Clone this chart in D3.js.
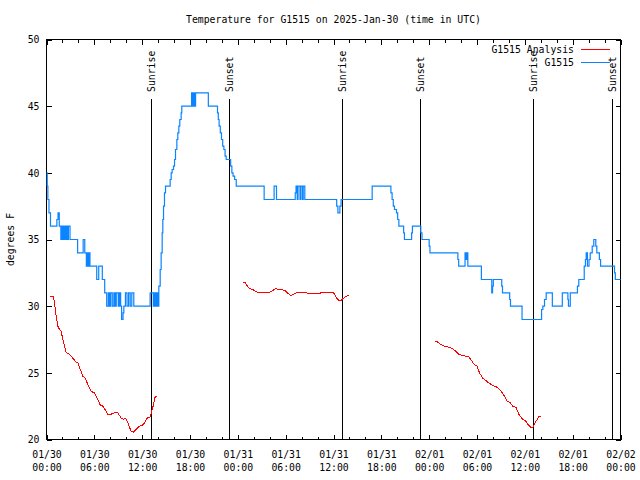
<!DOCTYPE html>
<html>
<head>
<meta charset="utf-8">
<script src="https://cdn.jsdelivr.net/npm/d3@7"></script>
<style>
  html, body { margin: 0; padding: 0; background: #fff; }
  svg { display: block; }
  text { font-family: "DejaVu Sans Mono", "Liberation Mono", monospace; font-size: 9.8px; fill: #000; }
</style>
</head>
<body>
<div id="chart"></div>
<script>
// ---- Data (hours since 2025-01-30 00:00 UTC) ----
const titleText = "Temperature for G1515 on 2025-Jan-30 (time in UTC)";
const yLabel = "degrees F";
const seriesNames = ["G1515 Analysis", "G1515"];

// Observed G1515 temperature: time at which each reading begins, and its value
const obsHours = [0.00,0.09,0.17,0.31,0.50,1.30,1.45,1.60,1.80,1.95,2.05,2.20,2.35,2.50,2.60,2.75,2.95,3.90,4.60,4.80,5.00,5.10,5.20,5.30,5.45,6.30,6.55,7.00,7.30,7.55,7.75,7.90,8.05,8.25,8.45,8.60,8.75,9.00,9.15,9.30,9.42,9.60,9.70,9.90,10.10,10.30,10.50,10.70,10.95,13.00,13.40,13.50,13.60,13.70,13.80,13.90,14.00,14.09,14.26,14.38,14.51,14.59,14.68,14.80,14.93,15.51,15.64,15.76,15.93,16.06,16.18,16.35,16.47,16.60,16.72,16.89,16.97,18.20,18.30,18.45,18.55,18.70,20.30,21.45,21.55,21.65,21.80,21.95,22.10,22.25,22.40,22.54,23.10,23.25,23.40,23.60,23.80,27.30,28.55,28.85,31.20,31.30,31.45,31.55,31.80,31.90,32.10,32.20,32.40,36.40,36.55,36.80,36.95,40.85,43.20,43.35,43.50,43.65,43.90,44.05,44.20,44.80,44.90,45.80,45.90,46.95,47.10,48.00,48.10,51.60,51.70,52.50,52.60,52.70,52.85,54.55,55.85,55.95,56.05,57.10,57.20,58.10,58.20,59.65,62.10,62.26,62.47,62.68,63.45,64.70,65.40,65.47,65.70,66.60,66.77,67.45,67.60,67.70,67.85,68.05,68.20,68.45,68.65,68.90,69.03,69.35,69.50,71.25,71.35,72.00];
const obsTemps = [40,39,38,37,36,36.5,37,36,35,36,35,36,35,36,35,36,35,34,35,34,33,34,33,34,33,32,33,32,31,30,31,30,31,30,31,30,31,30,31,30,29,29.5,30,31,30,31,30,31,30,31,30,31,30,31,30,31,30,31.5,32.75,34,35.5,36.5,37.5,38.5,39,39.5,40,40.25,40.5,41,41.75,42.5,43,43.5,44,44.5,45,46,45,46,45,46,45,44.5,44,43.5,43,42.5,42,41.75,41.25,41,40.5,40,39.75,39.5,39,38,39,38,38.5,39,38,39,38,39,38,39,38,37.5,37,37.5,38,39,38.5,38,37.5,37.25,37,36.5,36,35.5,35,35.5,36,35.5,35,34.5,34,33.5,33,34,33.5,34,33,32,31,31.5,32,31.5,31,30.5,30,29,29.75,30,30.5,31,30,31,30.5,30,31,31.5,32,33,33.5,34,33,33.5,34,34.5,35,34.5,34,33.5,33,32.5,32,32];

// Analysis series (null = gap)
const anaHours = [0.46,0.88,1.00,1.21,1.42,1.63,1.84,2.05,2.26,2.47,2.89,3.30,3.72,3.93,4.14,4.56,4.89,5.18,5.60,6.02,6.44,6.73,7.06,7.49,7.70,8.11,8.53,8.95,9.37,9.66,9.91,10.20,10.62,10.91,11.25,11.67,12.00,12.29,12.63,13.00,13.25,13.42,13.63,13.84,
  18.0,
  24.63,24.92,25.25,25.55,25.88,26.22,26.50,27.13,27.89,28.18,28.72,29.23,29.85,30.27,30.69,31.11,31.52,32.15,32.57,33.40,34.03,34.46,35.29,35.91,36.13,36.42,36.67,36.97,37.26,37.59,37.92,
  43.0,
  48.67,49.09,49.51,49.92,50.55,50.97,51.39,51.72,52.22,52.97,53.27,53.69,54.02,54.31,54.73,55.15,55.57,56.20,56.61,57.04,57.45,57.74,58.16,58.49,58.91,59.24,59.66,60.08,60.50,60.80,61.00,61.33,61.76,62.06];
const anaTemps = [30.75,30.75,30.25,29.25,28.5,28.25,28.1,27.5,27,26.5,26.4,26.1,25.8,25.75,25.4,24.75,24.6,24.1,23.6,23.5,23.0,22.6,22.5,22.1,21.9,21.9,22.0,22.0,21.6,21.5,21.6,21.25,20.6,20.55,20.75,21.0,21.05,21.25,21.6,21.7,22.25,22.6,23.2,23.2,
  null,
  31.75,31.75,31.45,31.3,31.25,31.1,31.05,31.0,31.0,31.1,31.3,31.25,31.2,30.95,30.8,30.95,31.05,31.05,31.0,30.93,30.93,31.0,31.05,31.05,30.9,30.6,30.45,30.45,30.6,30.75,30.8,
  null,
  27.4,27.3,27.1,27.0,26.9,26.8,26.6,26.4,26.3,26.2,25.95,25.6,25.5,25.0,24.6,24.4,24.2,24.0,23.9,23.6,23.25,22.9,22.75,22.5,22.4,21.9,21.55,21.4,21.05,20.9,20.9,21.3,21.7,21.7];

// Sunrise / sunset events
const sunNames = ["Sunrise","Sunset","Sunrise","Sunset","Sunrise","Sunset"];
const sunHours = [13.13, 22.99, 37.17, 46.95, 61.13, 71.04];

// Axis ticks
const xMajorHours = [0,6,12,18,24,30,36,42,48,54,60,66,72];
const xTickDates = ["01/30","01/30","01/30","01/30","01/31","01/31","01/31","01/31","02/01","02/01","02/01","02/01","02/02"];
const xTickTimes = ["00:00","06:00","12:00","18:00","00:00","06:00","12:00","18:00","00:00","06:00","12:00","18:00","00:00"];
const xMinorHours = d3.range(0, 73, 2).filter(h => h % 6 !== 0);
const yTicks = [20,25,30,35,40,45,50];

// ---- Layout ----
const W = 640, H = 480;
const L = 46.5, R = 620.5, T = 39.5, B = 439.5;
const blue = "#0a84ff", red = "#ff0000";

const svg = d3.select("#chart").append("svg").attr("width", W).attr("height", H);

const x = d3.scaleLinear().domain([0, 72]).range([L, R]);
const y = d3.scaleLinear().domain([20, 50]).range([B, T]);

// Title
svg.append("text").attr("x", (L + R) / 2).attr("y", 22.5)
  .attr("text-anchor", "middle").text(titleText);

// Y label
svg.append("text").attr("transform", `translate(14,${(T + B) / 2}) rotate(-90)`)
  .attr("text-anchor", "middle").text(yLabel);

function styleAxis(g) {
  g.select(".domain").remove();
  g.selectAll(".tick line").attr("stroke", "#000").attr("shape-rendering", "crispEdges");
}

// Bottom axis (major)
const gx = svg.append("g").attr("transform", `translate(0,${B})`)
  .call(d3.axisBottom(x).tickValues(xMajorHours).tickSizeInner(-5).tickSizeOuter(0).tickPadding(0).tickFormat(() => ""));
styleAxis(gx);
gx.selectAll(".tick text").remove();
gx.selectAll(".tick").append("text")
  .attr("text-anchor", "middle")
  .each(function(d) {
    const i = xMajorHours.indexOf(d);
    const t = d3.select(this);
    t.append("tspan").attr("x", 0).attr("y", 18.5).text(xTickDates[i]);
    t.append("tspan").attr("x", 0).attr("y", 31).text(xTickTimes[i]);
  });
// Bottom minor
styleAxis(svg.append("g").attr("transform", `translate(0,${B})`)
  .call(d3.axisBottom(x).tickValues(xMinorHours).tickSizeInner(-3).tickSizeOuter(0).tickFormat(() => "")));
// Top major + minor
styleAxis(svg.append("g").attr("transform", `translate(0,${T})`)
  .call(d3.axisTop(x).tickValues(xMajorHours).tickSizeInner(-5).tickSizeOuter(0).tickFormat(() => "")));
styleAxis(svg.append("g").attr("transform", `translate(0,${T})`)
  .call(d3.axisTop(x).tickValues(xMinorHours).tickSizeInner(-3).tickSizeOuter(0).tickFormat(() => "")));

// Left axis
const gy = svg.append("g").attr("transform", `translate(${L},0)`)
  .call(d3.axisLeft(y).tickValues(yTicks).tickSizeInner(-5).tickSizeOuter(0).tickPadding(7));
styleAxis(gy);
gy.selectAll(".tick text").attr("font-family", null).attr("font-size", null).attr("fill", "#000").attr("dy", "0.35em");
// Right axis
styleAxis(svg.append("g").attr("transform", `translate(${R},0)`)
  .call(d3.axisRight(y).tickValues(yTicks).tickSizeInner(-5).tickSizeOuter(0).tickFormat(() => "")));

// Border
svg.append("rect").attr("x", L).attr("y", T).attr("width", R - L).attr("height", B - T)
  .attr("fill", "none").attr("stroke", "#000").attr("shape-rendering", "crispEdges");

// Sun event lines & labels
sunHours.forEach((h, i) => {
  svg.append("line").attr("x1", x(h)).attr("x2", x(h)).attr("y1", 99).attr("y2", B)
    .attr("stroke", "#000").attr("stroke-width", 1).attr("shape-rendering", "crispEdges");
  svg.append("text").attr("transform", `translate(${x(h)},92) rotate(-90)`)
    .attr("text-anchor", "start").attr("dy", "0.35em").text(sunNames[i]);
});

// Observed series (step)
const obs = obsHours.map((h, i) => [h, obsTemps[i]]);
svg.append("path").datum(obs)
  .attr("fill", "none").attr("stroke", blue).attr("stroke-width", 1.2)
  .attr("d", d3.line().x(d => x(d[0])).y(d => y(d[1])).curve(d3.curveStepAfter));

// Analysis series
const ana = anaHours.map((h, i) => [h, anaTemps[i]]);
svg.append("path").datum(ana)
  .attr("fill", "none").attr("stroke", red).attr("stroke-width", 1).attr("shape-rendering", "crispEdges")
  .attr("d", d3.line().defined(d => d[1] !== null).x(d => x(d[0])).y(d => y(d[1])));

// Legend
const legend = [[seriesNames[0], red, 53.3, 49.5], [seriesNames[1], blue, 66, 62.5]];
legend.forEach(([name, col, ty, ly]) => {
  svg.append("text").attr("x", 574).attr("y", ty).attr("text-anchor", "end").text(name);
  svg.append("line").attr("x1", 581).attr("x2", 610).attr("y1", ly).attr("y2", ly)
    .attr("stroke", col).attr("stroke-width", 1).attr("shape-rendering", "crispEdges");
});
</script>
</body>
</html>
